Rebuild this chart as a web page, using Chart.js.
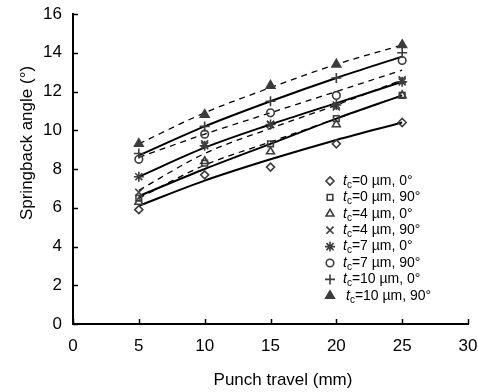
<!DOCTYPE html>
<html>
<head>
<meta charset="utf-8">
<script src="https://cdn.jsdelivr.net/npm/chart.js@4"></script>
<style>
  html, body { margin: 0; padding: 0; background: #fff; }
  #wrap { width: 478px; height: 392px; }
</style>
</head>
<body>
<div id="wrap"><canvas id="c" width="478" height="392"></canvas></div>
<script>
// punch travel (mm)
const travel = [5, 10, 15, 20, 25];

// measured springback angles (deg)
const tc0_0   = [5.9, 7.7, 8.1, 9.3, 10.4];
const tc0_90  = [6.5, 8.3, 9.3, 10.6, 11.8];
const tc4_0   = [6.3, 8.4, 8.9, 10.3, 11.8];
const tc4_90  = [6.8, 9.3, 10.3, 11.2, 12.6];
const tc7_0   = [7.6, 9.2, 10.3, 11.3, 12.5];
const tc7_90  = [8.5, 9.8, 10.9, 11.8, 13.6];
const tc10_0  = [8.8, 10.2, 11.5, 12.7, 14.0];
const tc10_90 = [9.3, 10.8, 12.3, 13.4, 14.4];

// fitted trend curves (solid = 0 deg, dashed = 90 deg)
const fit0_0   = [6.1, 7.4, 8.5, 9.5, 10.4];
const fit4_0   = [6.6, 8.0, 9.3, 10.6, 11.8];
const fit7_0   = [7.6, 9.1, 10.3, 11.4, 12.5];
const fit10_0  = [8.7, 10.2, 11.5, 12.7, 13.8];
const fit0_90  = [6.5, 8.2, 9.4, 10.6, 11.8];
const fit4_90  = [6.9, 8.8, 10.1, 11.3, 12.6];
const fit7_90  = [8.6, 9.8, 10.9, 12.0, 13.1];
const fit10_90 = [9.3, 10.9, 12.2, 13.4, 14.4];

const xTicks = [0, 5, 10, 15, 20, 25, 30];
const yTicks = [0, 2, 4, 6, 8, 10, 12, 14, 16];

const MARK = "#3c3c3c";
const FONT = "'Liberation Sans', Arial, sans-serif";

const series = [
  { tc: "0",  ang: "0°",  data: tc0_0,   style: "rectRot",  filled: false, r: 4 },
  { tc: "0",  ang: "90°", data: tc0_90,  style: "rect",     filled: false, r: 4 },
  { tc: "4",  ang: "0°",  data: tc4_0,   style: "triangle", filled: false, r: 4.5 },
  { tc: "4",  ang: "90°", data: tc4_90,  style: "crossRot", filled: false, r: 5 },
  { tc: "7",  ang: "0°",  data: tc7_0,   style: "star",     filled: false, r: 5 },
  { tc: "7",  ang: "90°", data: tc7_90,  style: "circle",   filled: false, r: 3.8 },
  { tc: "10", ang: "0°",  data: tc10_0,  style: "cross",    filled: false, r: 5 },
  { tc: "10", ang: "90°", data: tc10_90, style: "triangle", filled: true,  r: 5 },
];

const fits = [
  { data: fit0_0,   dash: [] },
  { data: fit4_0,   dash: [] },
  { data: fit7_0,   dash: [] },
  { data: fit10_0,  dash: [] },
  { data: fit0_90,  dash: [6, 5] },
  { data: fit4_90,  dash: [6, 5] },
  { data: fit7_90,  dash: [6, 5] },
  { data: fit10_90, dash: [6, 5] },
];

const toPts = arr => arr.map((v, i) => ({ x: travel[i], y: v }));

const datasets = [];
fits.forEach(f => {
  datasets.push({
    type: "line",
    data: toPts(f.data),
    showLine: true,
    borderColor: "#000",
    borderWidth: f.dash.length ? 1.3 : 2,
    borderDash: f.dash,
    pointRadius: 0,
    cubicInterpolationMode: "monotone",
    fill: false,
    order: 2,
  });
});
series.forEach(s => {
  datasets.push({
    type: "scatter",
    data: toPts(s.data),
    showLine: false,
    pointStyle: s.style,
    pointRadius: s.r,
    pointBorderWidth: 1.6,
    pointBorderColor: MARK,
    pointBackgroundColor: s.filled ? MARK : "rgba(0,0,0,0)",
    order: 1,
  });
});

// inward ticks, custom legend with subscripts, axis titles
const decor = {
  id: "decor",
  afterDraw(chart) {
    const { ctx, scales: { x, y } } = chart;
    ctx.save();
    ctx.strokeStyle = "#000";
    ctx.lineWidth = 1.5;
    xTicks.forEach(v => {
      const px = Math.round(x.getPixelForValue(v)) + 0.5;
      ctx.beginPath(); ctx.moveTo(px, y.bottom); ctx.lineTo(px, y.bottom - 5); ctx.stroke();
    });
    yTicks.forEach(v => {
      const py = Math.round(y.getPixelForValue(v)) + 0.5;
      ctx.beginPath(); ctx.moveTo(x.left, py); ctx.lineTo(x.left + 5, py); ctx.stroke();
    });

    // legend
    const lx = 330, tx = 343, ly0 = 181, dy = 16.4;
    series.forEach((s, i) => {
      const ly = ly0 + i * dy;
      ctx.strokeStyle = MARK;
      ctx.fillStyle = s.filled ? MARK : "rgba(0,0,0,0)";
      ctx.lineWidth = 1.6;
      Chart.helpers.drawPoint(ctx, { pointStyle: s.style, radius: s.r, borderWidth: 1.6, rotation: 0 }, lx, ly);
      ctx.fillStyle = "#000";
      ctx.textBaseline = "middle";
      ctx.textAlign = "left";
      let cx = tx + (i === 7 ? 3 : 0);
      ctx.font = "italic 14px " + FONT;
      ctx.fillText("t", cx, ly);
      cx += ctx.measureText("t").width;
      ctx.font = "10px " + FONT;
      ctx.fillText("c", cx, ly + 4);
      cx += ctx.measureText("c").width;
      ctx.font = "14px " + FONT;
      ctx.fillText("=" + s.tc + " µm, " + s.ang, cx, ly);
    });

    // axis titles
    ctx.font = "17px " + FONT;
    ctx.textAlign = "center";
    ctx.textBaseline = "middle";
    ctx.fillText("Punch travel (mm)", 283, 380);
    ctx.translate(27, 143);
    ctx.rotate(-Math.PI / 2);
    ctx.fillText("Springback angle (°)", 0, 0);
    ctx.restore();
  }
};

new Chart(document.getElementById("c"), {
  type: "scatter",
  data: { datasets },
  options: {
    responsive: false,
    animation: false,
    events: [],
    layout: { padding: { top: 14, right: 10, left: 0, bottom: 0 } },
    plugins: { legend: { display: false }, tooltip: { enabled: false } },
    scales: {
      x: {
        type: "linear",
        min: 0, max: 30,
        afterBuildTicks: s => { s.ticks = xTicks.map(v => ({ value: v })); },
        afterFit: s => { s.height = 68; s.paddingLeft = 0; s.paddingRight = 0; },
        grid: { display: false, drawTicks: false },
        border: { display: true, color: "#000", width: 2 },
        ticks: { color: "#000", font: { family: FONT, size: 17 }, padding: 12, maxRotation: 0 },
      },
      y: {
        type: "linear",
        min: 0, max: 16,
        afterBuildTicks: s => { s.ticks = yTicks.map(v => ({ value: v })); },
        afterFit: s => { s.width = 73; s.paddingTop = 0; s.paddingBottom = 0; },
        grid: { display: false, drawTicks: false },
        border: { display: true, color: "#000", width: 2 },
        ticks: { color: "#000", font: { family: FONT, size: 17 }, padding: 11 },
      },
    },
  },
  plugins: [decor],
});
</script>
</body>
</html>
